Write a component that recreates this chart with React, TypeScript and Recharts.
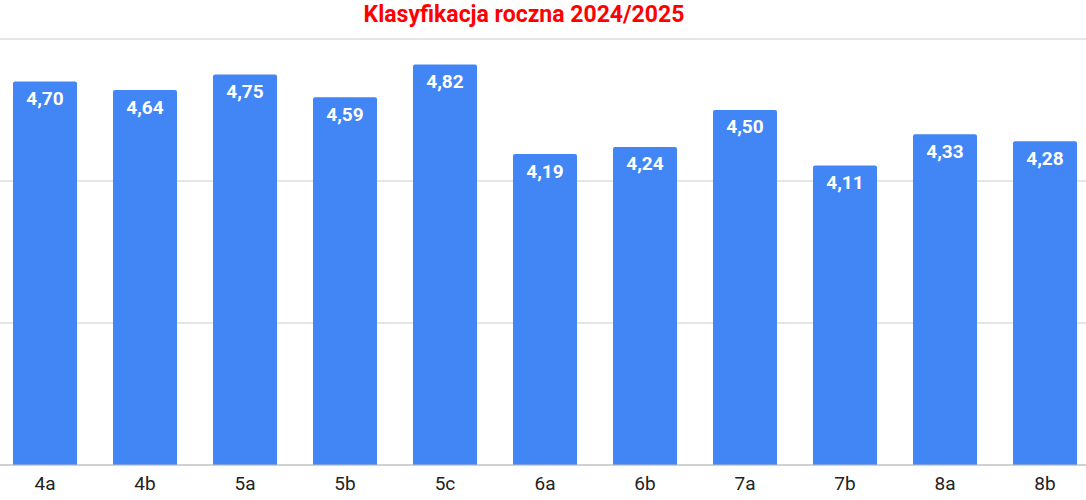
import React from "react";
import { BarChart, Bar, XAxis, YAxis, CartesianGrid, LabelList } from "recharts";

// oddziały i średnie ocen
const classes = ["4a", "4b", "5a", "5b", "5c", "6a", "6b", "7a", "7b", "8a", "8b"];
const averages = [4.7, 4.64, 4.75, 4.59, 4.82, 4.19, 4.24, 4.5, 4.11, 4.33, 4.28];
const yTicks = [2, 3, 4, 5];

const data = classes.map((name, i) => ({ name, srednia: averages[i] }));

const fmt = (v: any) => Number(v).toFixed(2).replace(".", ",");

export default function App() {
  return (
    <div
      style={{
        position: "absolute",
        left: 0,
        top: 0,
        width: 1086,
        height: 500,
        overflow: "hidden",
        background: "#fff",
        fontFamily: "Roboto, sans-serif",
      }}
    >
      <div
        style={{
          position: "absolute",
          left: 0,
          top: 1,
          width: 1048,
          textAlign: "center",
          color: "#ff0000",
          fontWeight: 700,
          fontSize: 23,
          lineHeight: "28px",
        }}
      >
        Klasyfikacja roczna 2024/2025
      </div>
      <div style={{ position: "absolute", left: -5, top: 0 }}>
        <BarChart
          width={1100}
          height={500}
          data={data}
          margin={{ top: 39, right: 0, bottom: 0, left: 0 }}
          barCategoryGap="18%"
        >
          <CartesianGrid vertical={false} stroke="#cccccc" />
          <YAxis hide domain={[2, 5]} ticks={yTicks} />
          <XAxis
            dataKey="name"
            height={35}
            tickLine={false}
            tickSize={0}
            tickMargin={12}
            axisLine={{ stroke: "#bdbdbd" }}
            tick={{ fill: "#222222", fontSize: 19, fontFamily: "Roboto, sans-serif" }}
          />
          <Bar dataKey="srednia" fill="#4285f4" radius={[2, 2, 0, 0]} isAnimationActive={false}>
            <LabelList
              dataKey="srednia"
              position="insideTop"
              offset={10}
              formatter={fmt}
              fill="#ffffff"
              style={{ fontSize: 19, fontWeight: 700, fontFamily: "Roboto, sans-serif" }}
            />
          </Bar>
        </BarChart>
      </div>
    </div>
  );
}
